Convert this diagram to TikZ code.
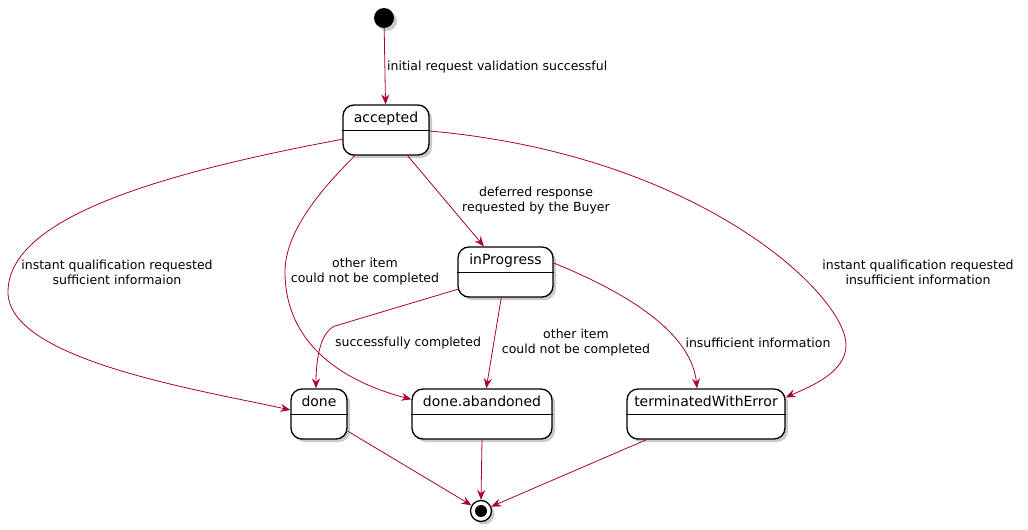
\documentclass[tikz,border=0pt]{standalone}
\usepackage{fontspec}
\setmainfont{DejaVu Sans}
\usepackage{tikz}
\usetikzlibrary{arrows.meta}
\usetikzlibrary{shadows}
\definecolor{plumred}{HTML}{A80036}
\tikzset{
    mystate/.style = {rectangle, rounded corners=11pt, draw=black, line width=1.3pt, fill=white,
        drop shadow={shadow xshift=3pt, shadow yshift=-3pt, fill=black!35, opacity=0.6},
        font=\fontsize{14}{16}\selectfont, inner xsep=0pt, inner ysep=0pt,
        text height=17pt, text depth=33pt},
    mystart/.style = {circle, fill=black, minimum size=20pt, inner sep=0pt,
        drop shadow={shadow xshift=3pt, shadow yshift=-3pt, fill=black!35, opacity=0.6}},
    myend/.style = {circle, draw=black, line width=1.3pt, fill=white, minimum size=21pt, inner sep=0pt,
        drop shadow={shadow xshift=3pt, shadow yshift=-3pt, fill=black!35, opacity=0.6},
        path picture={\fill[black] (path picture bounding box.center) circle (6pt);}},
    mylabel/.style = {align=center, font=\fontsize{12.5}{15}\selectfont, inner sep=0pt},
    myedge/.style = {draw=plumred, line width=0.8pt, -{Stealth[length=10pt, width=8pt, inset=3.5pt]}},
}

\begin{document}
\begin{tikzpicture}[x=1pt, y=-1pt]
  \useasboundingbox (0,0) rectangle (1028,530);

  % states
  \node[mystart] (start) at (384,18) {};
  \node[mystate, minimum width=86pt] (accepted) at (386,130) {accepted};
  \node[mystate, minimum width=95pt] (inProgress) at (505.5,272) {inProgress};
  \node[mystate, minimum width=56pt] (done) at (319,414) {done};
  \node[mystate, minimum width=140pt] (abandoned) at (482,414) {done.abandoned};
  \node[mystate, minimum width=158pt] (terminated) at (706,414) {terminatedWithError};
  \node[myend] (end) at (481,511) {};

  \foreach \n in {accepted,inProgress,done,abandoned,terminated}
    \draw[line width=1.1pt] ([yshift=-26pt]\n.north west) -- ([yshift=-26pt]\n.north east);

  % transitions
  \draw[myedge] (start) -- (accepted);
  \draw[myedge] ([yshift=-9pt]accepted.east |- accepted.west) ++(-86pt,0) coordinate (accW)
    (accW) .. controls (150,175) and (8,220) .. (8,292) .. controls (8,360) and (200,390) .. (done.west |- 0,410);
  \draw[myedge] ([xshift=-31pt]accepted.south) .. controls (315,195) and (285,235) .. (285,272)
    .. controls (285,335) and (330,378) .. ([yshift=-11pt]abandoned.north west);
  \draw[myedge] (accepted) -- (inProgress);
  \draw[myedge] ([yshift=-1pt]accepted.north east |- accepted.center) .. controls (700,155) and (846,295) .. (846,345)
    .. controls (846,372) and (812,386) .. ([yshift=-9pt]terminated.north east);
  \draw[myedge] ([yshift=-17pt]inProgress.east |- inProgress.west) ++(-95pt,0) coordinate (ipW)
    (ipW) -- (335,326) .. controls (320,332) and (316,360) .. ([xshift=-3pt]done.north);
  \draw[myedge] (inProgress) -- (abandoned);
  \draw[myedge] ([yshift=9pt]inProgress.east) .. controls (640,298) and (692,338) .. ([xshift=-9pt]terminated.north);
  \draw[myedge] (done) -- (end);
  \draw[myedge] (abandoned.south) -- (end.north);
  \draw[myedge] (terminated) -- (end);

  % labels
  \node[mylabel, anchor=west] (l1) at (387,67) {initial request validation successful};
  \node[mylabel] (l2) at (117,272) {instant qualification requested\\sufficient informaion};
  \node[mylabel] (l3) at (365,272) {other item\\could not be completed};
  \node[mylabel] (l4) at (536,201) {deferred response\\requested by the Buyer};
  \node[mylabel] (l5) at (918,272) {instant qualification requested\\insufficient information};
  \node[mylabel] (l6) at (408,343) {successfully completed};
  \node[mylabel] (l7) at (576,343) {other item\\could not be completed};
  \node[mylabel] (l8) at (758,343) {insufficient information};
\end{tikzpicture}
\end{document}
